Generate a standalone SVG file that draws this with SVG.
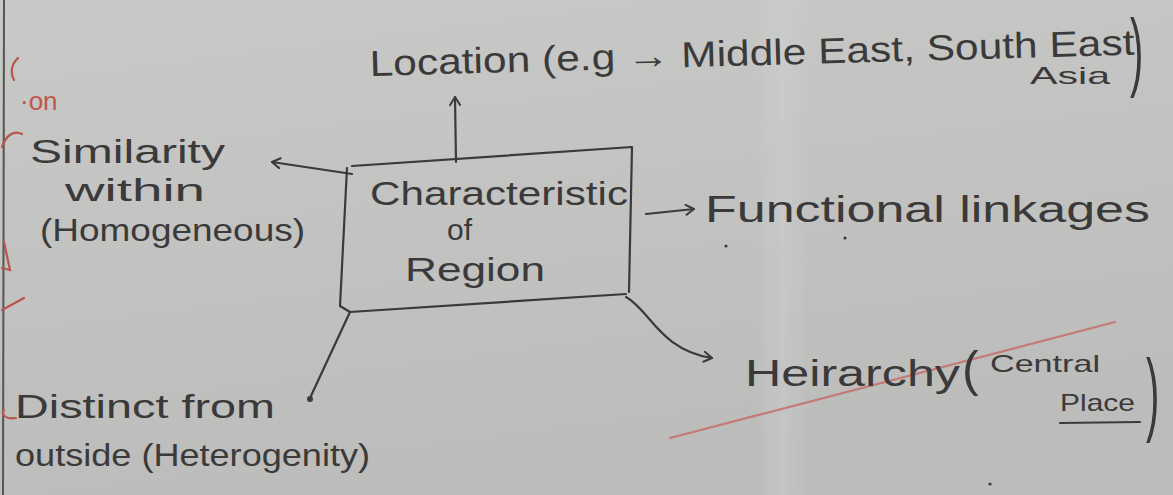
<svg xmlns="http://www.w3.org/2000/svg" width="1173" height="495" viewBox="0 0 1173 495">
  <defs>
    <linearGradient id="paper" x1="0" y1="0" x2="0.3" y2="1">
      <stop offset="0" stop-color="#c9c9c7"/>
      <stop offset="1" stop-color="#bcbcba"/>
    </linearGradient>
    <linearGradient id="band" x1="0" y1="0" x2="1" y2="0">
      <stop offset="0" stop-color="#d0d6dc" stop-opacity="0"/>
      <stop offset="0.5" stop-color="#d0d6dc" stop-opacity="0.35"/>
      <stop offset="1" stop-color="#d0d6dc" stop-opacity="0"/>
    </linearGradient>
    <marker id="chev" viewBox="0 0 12 12" refX="10" refY="6" markerWidth="12" markerHeight="12" markerUnits="userSpaceOnUse" orient="auto">
      <path d="M2 1 L10 6 L2 11" fill="none" stroke="#3a3a3a" stroke-width="2" stroke-linecap="round" stroke-linejoin="round"/>
    </marker>
    <style>
      .ink { font-family: "Liberation Sans", "DejaVu Sans", sans-serif; fill: #3a3a3a; }
      .pen { fill: none; stroke: #3a3a3a; stroke-width: 2.2; stroke-linecap: round; stroke-linejoin: round; }
      .red { fill: none; stroke: #b8554f; stroke-width: 2.2; stroke-linecap: round; }
      .redtext { font-family: "Liberation Sans", sans-serif; fill: #c0564e; }
    </style>
  </defs>

  <!-- paper -->
  <rect width="1173" height="495" fill="url(#paper)"/>
  <rect x="755" y="0" width="55" height="495" fill="url(#band)"/>
  <line x1="4" y1="0" x2="3" y2="495" stroke="#555" stroke-width="2"/>

  <!-- margin marks in red ink -->
  <g id="margin">
    <path class="red" d="M18 58 C12 64 10 72 14 80"/>
    <text class="redtext" x="20" y="110" font-size="26">·on</text>
    <path class="red" d="M2 147 C6 135 14 130 22 134"/>
    <path class="red" d="M4 242 L10 270 L2 268"/>
    <path class="red" d="M2 310 L24 298"/>
    <path class="red" d="M4 410 C0 414 6 420 16 418"/>
    <line x1="670" y1="438" x2="1115" y2="322" stroke="#c47a76" stroke-width="2.2" stroke-linecap="round"/>
  </g>

  <!-- connectors -->
  <g id="connectors">
    <path class="pen" d="M456 162 L455 97" marker-end="url(#chev)"/>
    <path class="pen" d="M352 174 L272 162" marker-end="url(#chev)"/>
    <path class="pen" d="M646 214 L694 209" marker-end="url(#chev)"/>
    <path class="pen" d="M626 297 C650 310 660 350 712 358" marker-end="url(#chev)"/>
    <path class="pen" d="M350 312 L310 398"/>
    <circle cx="310" cy="399" r="3" fill="#3a3a3a"/>
  </g>

  <!-- central node -->
  <g id="region">
    <path class="pen" d="M352 166 L632 147 L629 292 M626 294 L350 312 L340 306 L347 168"/>
    <text class="ink" x="370" y="205" font-size="34" textLength="258" lengthAdjust="spacingAndGlyphs">Characteristic</text>
    <text class="ink" x="447" y="240" font-size="30">of</text>
    <text class="ink" x="405" y="281" font-size="34" textLength="140" lengthAdjust="spacingAndGlyphs">Region</text>
  </g>

  <g id="location">
    <text class="ink" x="370" y="76" font-size="36" textLength="765" lengthAdjust="spacingAndGlyphs" transform="rotate(-1.6 370 76)">Location (e.g → Middle East, South East</text>
    <text class="ink" x="1030" y="84" font-size="24" textLength="80" lengthAdjust="spacingAndGlyphs">Asia</text>
    <!-- tall closing bracket, stretched vertically -->
    <text class="ink" font-size="40" transform="translate(1130 80) scale(1 2.2)">)</text>
  </g>

  <g id="similarity">
    <text class="ink" x="30" y="163" font-size="34" textLength="195" lengthAdjust="spacingAndGlyphs">Similarity</text>
    <text class="ink" x="65" y="201" font-size="32" textLength="140" lengthAdjust="spacingAndGlyphs">within</text>
    <text class="ink" x="40" y="241" font-size="32" textLength="265" lengthAdjust="spacingAndGlyphs">(Homogeneous)</text>
  </g>

  <g id="functional">
    <text class="ink" x="705" y="222" font-size="36" textLength="445" lengthAdjust="spacingAndGlyphs">Functional linkages</text>
  </g>

  <g id="hierarchy">
    <text class="ink" x="745" y="386" font-size="36" textLength="215" lengthAdjust="spacingAndGlyphs">Heirarchy</text>
    <text class="ink" x="962" y="386" font-size="50">(</text>
    <text class="ink" x="990" y="372" font-size="24" textLength="110" lengthAdjust="spacingAndGlyphs">Central</text>
    <text class="ink" x="1060" y="411" font-size="24" textLength="75" lengthAdjust="spacingAndGlyphs">Place</text>
    <path class="pen" d="M1060 423 L1140 422"/>
    <!-- tall closing bracket, stretched vertically -->
    <text class="ink" font-size="40" transform="translate(1146 424) scale(1 2.3)">)</text>
  </g>

  <g id="distinct">
    <text class="ink" x="15" y="418" font-size="34" textLength="260" lengthAdjust="spacingAndGlyphs">Distinct from</text>
    <text class="ink" x="15" y="466" font-size="32" textLength="355" lengthAdjust="spacingAndGlyphs">outside (Heterogenity)</text>
  </g>

  <!-- stray pen dots -->
  <circle cx="726" cy="246" r="1.6" fill="#3a3a3a"/>
  <circle cx="845" cy="238" r="1.6" fill="#3a3a3a"/>
  <circle cx="990" cy="484" r="1.6" fill="#3a3a3a"/>
</svg>
